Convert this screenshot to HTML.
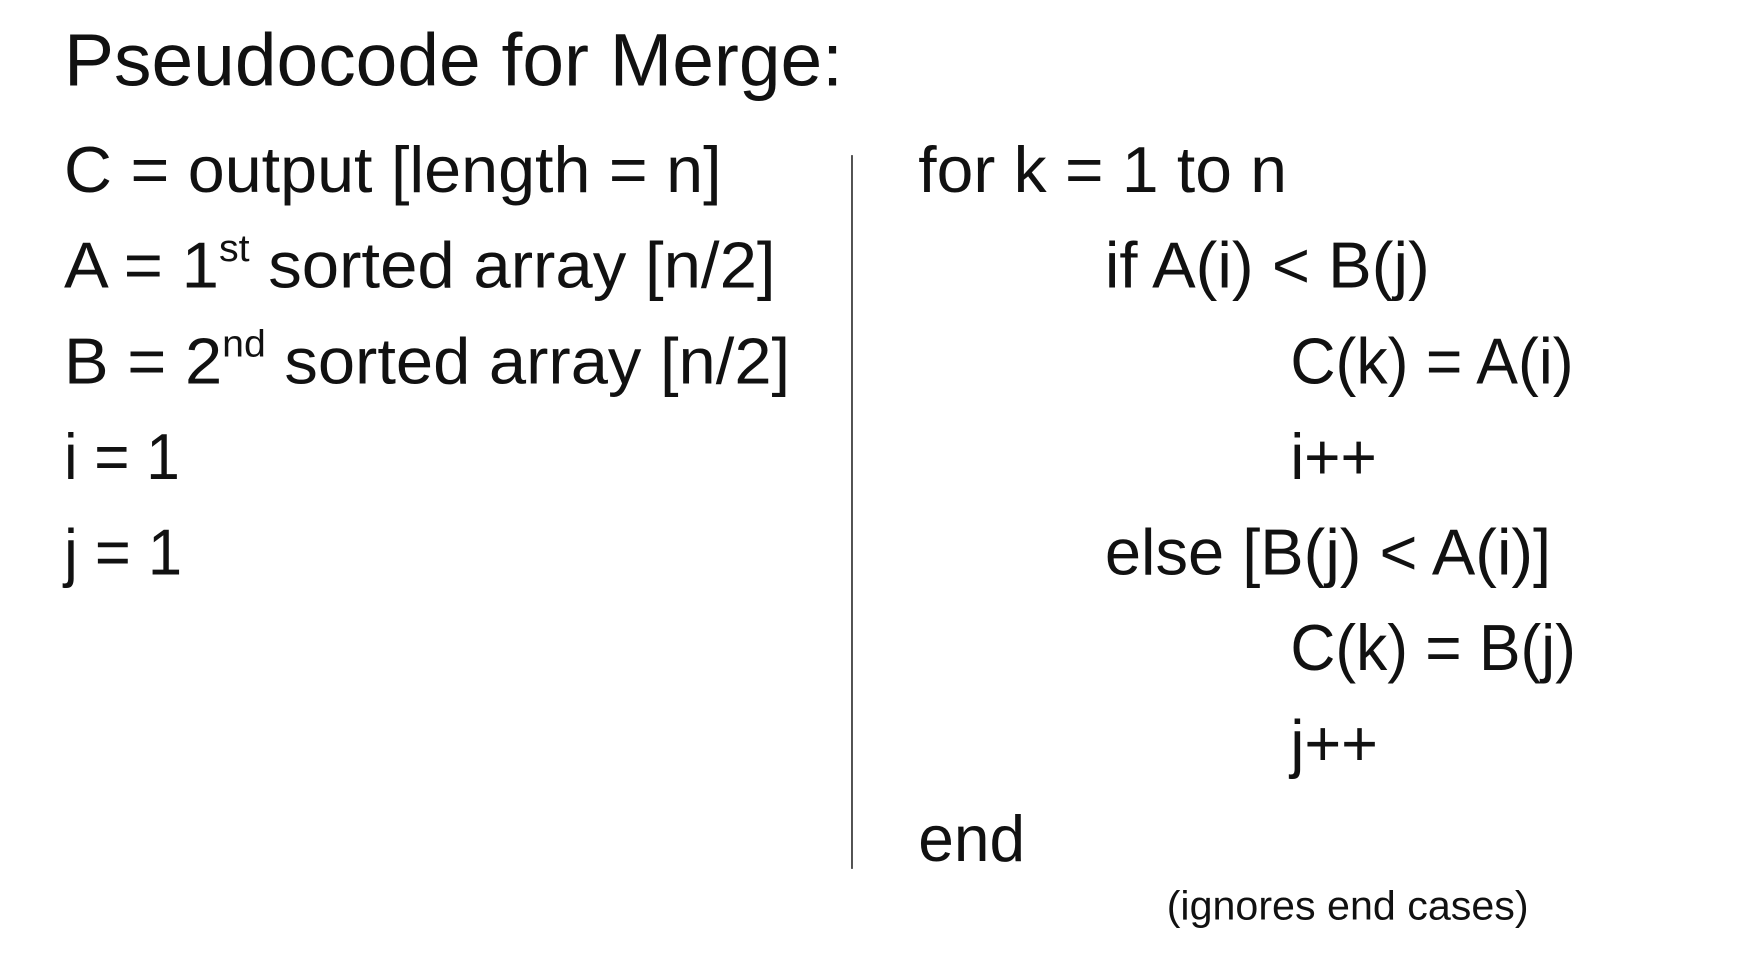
<!DOCTYPE html>
<html><head><meta charset="utf-8"><style>
html,body{margin:0;padding:0;background:#fff;}
svg{display:block;}
text{font-family:"Liberation Sans",sans-serif;fill:#111;}
</style></head><body>
<svg width="1754" height="958" viewBox="0 0 1560.5 852.3" xmlns="http://www.w3.org/2000/svg">
<rect width="1560.5" height="852.3" fill="#fff"/>
<text x="57" y="76" font-size="66" textLength="693" lengthAdjust="spacingAndGlyphs">Pseudocode for Merge:</text>

<text x="57" y="171" font-size="58" textLength="585" lengthAdjust="spacingAndGlyphs">C = output [length = n]</text>
<text x="57" y="256" font-size="58" textLength="633" lengthAdjust="spacingAndGlyphs">A = 1<tspan font-size="34" dy="-24">st</tspan><tspan dy="24"> sorted array [n/2]</tspan></text>
<text x="57" y="341" font-size="58" textLength="646" lengthAdjust="spacingAndGlyphs">B = 2<tspan font-size="34" dy="-24">nd</tspan><tspan dy="24"> sorted array [n/2]</tspan></text>
<text x="57" y="426" font-size="58" textLength="103" lengthAdjust="spacingAndGlyphs">i = 1</text>
<text x="57" y="511" font-size="58" textLength="105" lengthAdjust="spacingAndGlyphs">j = 1</text>

<line x1="758" y1="138" x2="758" y2="773" stroke="#333" stroke-width="1.5"/>

<text x="817" y="171" font-size="58" textLength="328" lengthAdjust="spacingAndGlyphs">for k = 1 to n</text>
<text x="983" y="256" font-size="58" textLength="289" lengthAdjust="spacingAndGlyphs">if A(i) &lt; B(j)</text>
<text x="1148" y="341" font-size="58" textLength="252" lengthAdjust="spacingAndGlyphs">C(k) = A(i)</text>
<text x="1148" y="426" font-size="58" textLength="77" lengthAdjust="spacingAndGlyphs">i++</text>
<text x="983" y="511" font-size="58" textLength="397" lengthAdjust="spacingAndGlyphs">else [B(j) &lt; A(i)]</text>
<text x="1148" y="596" font-size="58" textLength="254" lengthAdjust="spacingAndGlyphs">C(k) = B(j)</text>
<text x="1148" y="681" font-size="58" textLength="78" lengthAdjust="spacingAndGlyphs">j++</text>
<text x="817" y="766" font-size="58" textLength="95" lengthAdjust="spacingAndGlyphs">end</text>
<text x="1038" y="818" font-size="36" textLength="322" lengthAdjust="spacingAndGlyphs">(ignores end cases)</text>
</svg>
</body></html>
